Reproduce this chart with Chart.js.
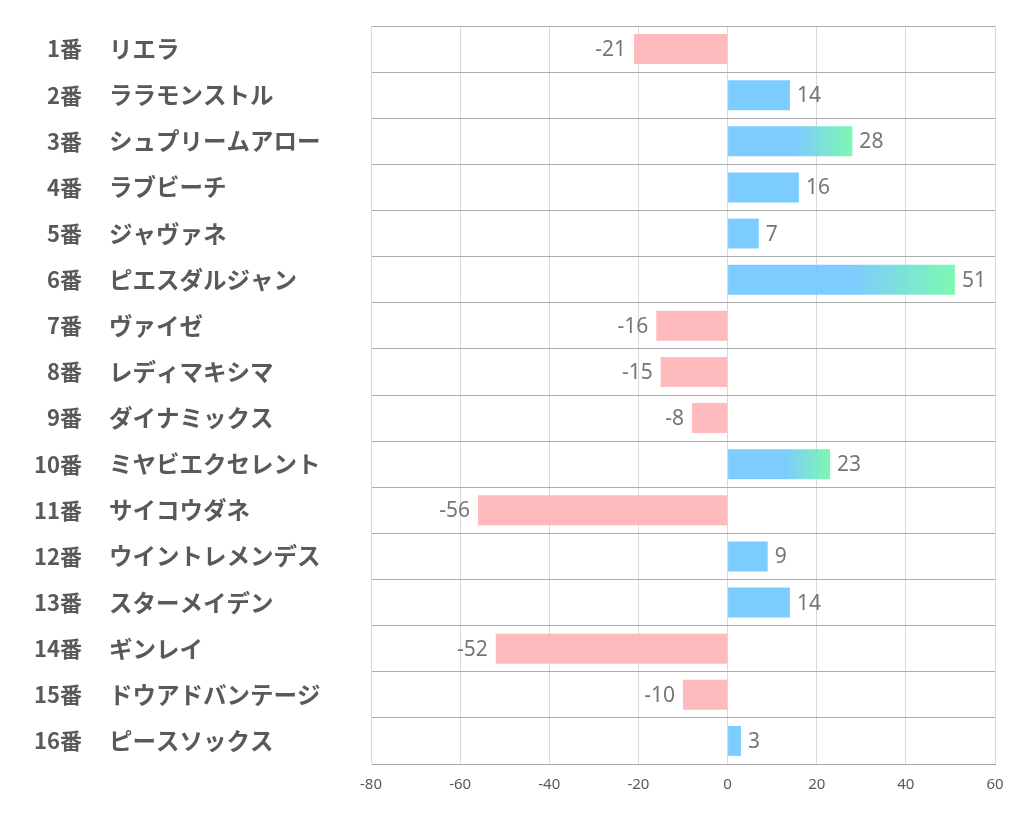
<!DOCTYPE html>
<html lang="ja">
<head>
<meta charset="utf-8">
<title>chart</title>
<script src="https://cdn.jsdelivr.net/npm/chart.js@4"></script>
<style>
  body { margin: 0; background: #fff; }
  #wrap { width: 1022px; height: 834px; }
</style>
</head>
<body>
<div id="wrap"><canvas id="horseChart" width="1022" height="834"></canvas></div>
<script>
// data
const numbers = ['1番', '2番', '3番', '4番', '5番', '6番', '7番', '8番',
  '9番', '10番', '11番', '12番', '13番', '14番', '15番', '16番'];
const names = ['リエラ', 'ララモンストル', 'シュプリームアロー', 'ラブビーチ', 'ジャヴァネ',
  'ピエスダルジャン', 'ヴァイゼ', 'レディマキシマ', 'ダイナミックス', 'ミヤビエクセレント',
  'サイコウダネ', 'ウイントレメンデス', 'スターメイデン', 'ギンレイ', 'ドウアドバンテージ', 'ピースソックス'];
const scores = [-21, 14, 28, 16, 7, 51, -16, -15, -8, 23, -56, 9, 14, -52, -10, 3];
const xTicks = [-80, -60, -40, -20, 0, 20, 40, 60];

const blue = 'rgba(111,198,255,0.9)';
const green = 'rgba(110,247,169,0.9)';
const pink = 'rgba(255,179,183,0.9)';

function barColor(ctx) {
  const v = ctx.raw;
  if (v < 0) return pink;
  if (v < 20) return blue;
  const chart = ctx.chart;
  const x = chart.scales.x;
  if (!chart.chartArea || !x) return blue;
  const x0 = x.getPixelForValue(0);
  const x1 = x.getPixelForValue(v);
  const g = chart.ctx.createLinearGradient(x0, 0, x1, 0);
  g.addColorStop(0, blue);
  g.addColorStop(0.55, blue);
  g.addColorStop(1, green);
  return g;
}

// numbers like "1番" drawn right-aligned in their own column
const numberColumn = {
  id: 'numberColumn',
  afterDraw(chart) {
    const c = chart.ctx;
    const y = chart.scales.y;
    c.save();
    c.font = 'bold 22px "Noto Sans CJK JP"';
    c.fillStyle = '#595959';
    c.textAlign = 'right';
    c.textBaseline = 'middle';
    numbers.forEach((n, i) => {
      c.fillText(n, 82, y.getPixelForValue(i));
    });
    c.restore();
  }
};

// value labels at the end of each bar
const valueLabels = {
  id: 'valueLabels',
  afterDatasetsDraw(chart) {
    const c = chart.ctx;
    const meta = chart.getDatasetMeta(0);
    c.save();
    c.font = '21px "Noto Sans"';
    c.fillStyle = '#767676';
    c.textBaseline = 'middle';
    meta.data.forEach((bar, i) => {
      const v = scores[i];
      if (v >= 0) {
        c.textAlign = 'left';
        c.fillText(String(v), bar.x + 7, bar.y + 1);
      } else {
        c.textAlign = 'right';
        c.fillText(String(v), bar.x - 8, bar.y + 1);
      }
    });
    c.restore();
  }
};

const chart = new Chart(document.getElementById('horseChart'), {
  type: 'bar',
  data: {
    labels: names,
    datasets: [{
      data: scores,
      backgroundColor: barColor,
      borderWidth: 0,
      barPercentage: 0.72,
      categoryPercentage: 0.9
    }]
  },
  options: {
    indexAxis: 'y',
    responsive: false,
    animation: false,
    layout: { padding: { left: 109, right: 27, top: 26, bottom: 28 } },
    plugins: {
      legend: { display: false },
      tooltip: { enabled: false }
    },
    scales: {
      x: {
        min: -80,
        max: 60,
        afterBuildTicks(scale) {
          scale.ticks = xTicks.map(v => ({ value: v }));
        },
        grid: { color: '#d9d9d9', drawTicks: false },
        border: { color: '#a6a6a6' },
        ticks: {
          color: '#595959',
          font: { size: 15, family: '"Noto Sans"' },
          padding: 12
        }
      },
      y: {
        grid: { color: '#ababab', drawTicks: false },
        border: { color: '#d9d9d9' },
        afterFit(scale) { scale.width = 262; },
        ticks: {
          crossAlign: 'far',
          color: '#595959',
          font: { size: 23.5, weight: 'bold', family: '"Noto Sans CJK JP"' }
        }
      }
    }
  },
  plugins: [numberColumn, valueLabels]
});
</script>
</body>
</html>
